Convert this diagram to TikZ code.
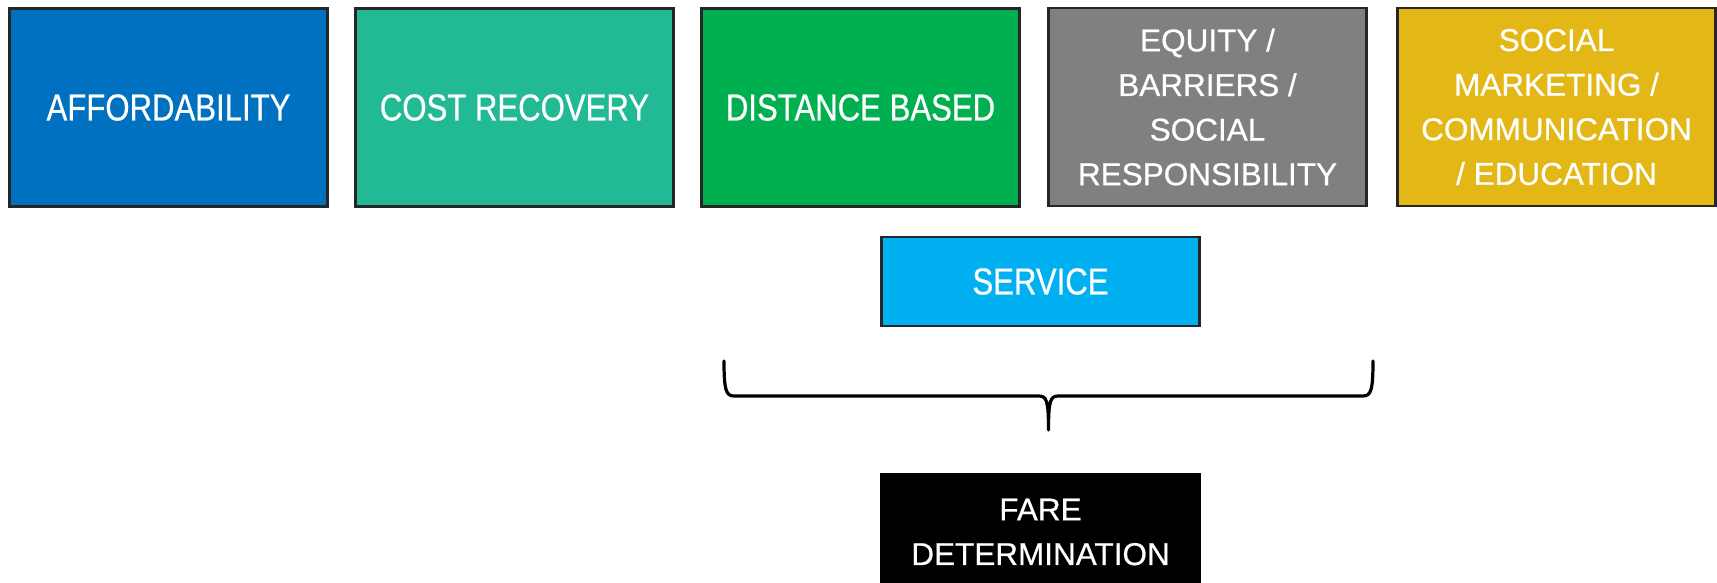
\documentclass[tikz,border=0pt]{standalone}
\usepackage{fontspec}
\setmainfont[FakeBold=0.6]{Liberation Sans}
\newfontfamily\condfont[FakeStretch=0.83,FakeBold=0.6]{Liberation Sans}
\definecolor{cblue}{HTML}{0070C0}
\definecolor{cteal}{HTML}{22BA94}
\definecolor{cgreen}{HTML}{00B050}
\definecolor{cgray}{HTML}{808080}
\definecolor{cgold}{HTML}{E3B715}
\definecolor{csky}{HTML}{00B0F0}
\tikzset{
  box/.style={draw=black!85, line width=2.5pt, rectangle, inner sep=0pt,
    minimum width=318pt, text=white, align=center},
  top/.style={box, minimum height=198pt},
  single/.style={font=\condfont\fontsize{37.5}{44}\selectfont},
  multi/.style={font=\fontsize{31.5}{44.6}\selectfont},
  bracel/.style={draw=black, line width=3.2pt, line cap=round, line join=round}
}
\begin{document}
\begin{tikzpicture}[x=1pt, y=-1pt]
\useasboundingbox (0,0) rectangle (1717,583);
\clip (0,0) rectangle (1717,583);
\node[top, single, fill=cblue] (aff) at (168.5,107.5) {AFFORDABILITY};
\node[top, single, fill=cteal] (cost) at (514.5,107.5) {COST RECOVERY};
\node[top, single, fill=cgreen] (dist) at (860.5,107.5) {DISTANCE BASED};
\node[top, multi, fill=cgray] (equity) at (1207.5,107) {EQUITY /\\BARRIERS /\\SOCIAL\\RESPONSIBILITY};
\node[top, multi, fill=cgold] (social) at (1556.5,107) {SOCIAL\\MARKETING /\\COMMUNICATION\\/ EDUCATION};
\node[box, single, fill=csky, minimum height=89pt] (service) at (1040.5,281.5) {SERVICE};
\node[box, multi, fill=black, draw=black, minimum height=116pt] (fare) at (1040.5,532) {FARE\\DETERMINATION};
\coordinate (bl) at (724,361);
\coordinate (br) at (1373,361);
\coordinate (bt) at (1048.5,430);
\draw[bracel] (bl) .. controls (724,390) and (726,396) .. (734,396)
  -- (1038.5,396) .. controls (1046.5,396) and (1048.5,400) .. (bt)
  .. controls (1048.5,400) and (1050.5,396) .. (1058.5,396)
  -- (1363,396) .. controls (1371,396) and (1373,390) .. (br);
\end{tikzpicture}
\end{document}
